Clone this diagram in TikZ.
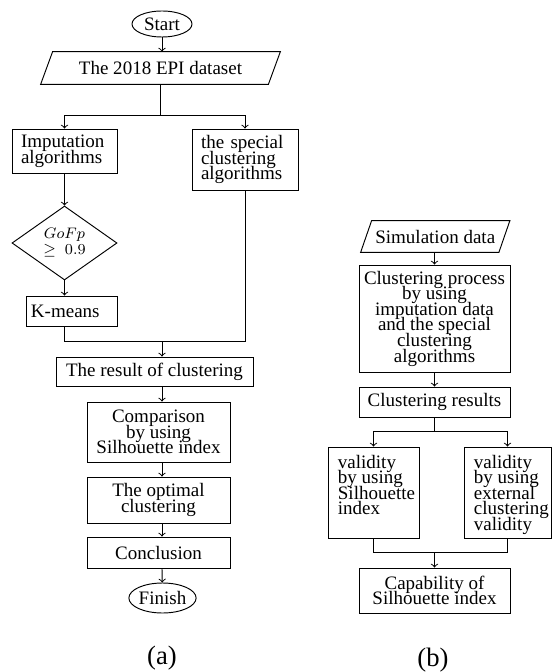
\documentclass[tikz,border=0pt]{standalone}
\usepackage{fontspec}
\setmainfont{Liberation Serif}
\usetikzlibrary{shapes.geometric}
\newdimen\pxu \pxu=0.526pt
\newcommand\bodyfnt{\fontsize{10}{8.2}\selectfont\lineskiplimit-20pt\relax\lineskip0pt\relax}
\newcommand\gofnt{\fontsize{8}{8.4}\selectfont\lineskiplimit-20pt\relax\lineskip0pt\relax}
\tikzset{
  base/.style={line width=0.5pt},
  box/.style={draw, base, inner sep=0pt, align=center},
  term/.style={ellipse, draw, base, inner sep=0pt},
  arr/.style={base, ->},
  ln/.style={base},
  bodyfont/.style={font=\bodyfnt},
  caption/.style={font=\fontsize{14}{16}\selectfont},
}
\begin{document}
\begin{tikzpicture}[x=\pxu, y=-\pxu, bodyfont]
\useasboundingbox (0,0) rectangle (552,672);
% ---------- (a)
\node[term, minimum width=60\pxu, minimum height=26\pxu] (start) at (162,24) {Start};
\node[inner sep=0pt, minimum width=227\pxu, minimum height=32\pxu] (data) at (160.5,68) {The 2018 EPI dataset};
\draw[ln] ([xshift=6\pxu]data.north west) -- ([xshift=6\pxu]data.north east)
  -- ([xshift=-6\pxu]data.south east) -- ([xshift=-6\pxu]data.south west) -- cycle;
\coordinate (s1) at (160.5,115);
\node[box, align=left, text width=87\pxu, inner xsep=9\pxu, minimum height=44\pxu] (imp) at (64.5,151) {Imputation\\algorithms};
\node[box, align=left, text width=88\pxu, inner xsep=9\pxu, minimum height=61\pxu] (spec) at (245,159.5) {the special\\clustering\\algorithms};
\node[diamond, draw, base, inner sep=0pt, minimum width=105\pxu, minimum height=74\pxu, align=center, font=\gofnt] (gof) at (64.5,243) {$GoFp$\\$\geq\; 0.9$};
\node[box, align=left, text width=81\pxu, inner xsep=5\pxu, minimum height=30\pxu] (km) at (71.5,311) {K-means};
\coordinate (j1) at (162,341);
\node[box, minimum width=197\pxu, minimum height=29\pxu] (res) at (154.5,371.5) {The result of clustering};
\node[box, minimum width=143\pxu, minimum height=60\pxu] (cmp) at (158.5,432) {Comparison\\by using\\Silhouette index};
\node[box, minimum width=143\pxu, minimum height=46\pxu] (opt) at (158.5,500) {The optimal\\clustering};
\node[box, minimum width=143\pxu, minimum height=31\pxu] (con) at (158.5,552.5) {Conclusion};
\node[term, minimum width=61\pxu, minimum height=30\pxu] (fin) at (162.5,598) {Finish};
\node[caption] (capa) at (162,658) {(a)};

\draw[arr] (start) -- (start |- data.north);
\draw[ln] (data.south) -- (s1);
\draw[arr] (s1) -| (imp);
\draw[arr] (s1) -| (spec);
\draw[arr] (imp) -- (gof);
\draw[arr] (gof.south) -- (gof.south |- km.north);
\draw[ln] (km.south -| gof) |- (j1);
\draw[ln] (spec) |- (j1);
\draw[arr] (j1) -- (j1 |- res.north);
\draw[arr] (res.south -| start) -- (cmp.north -| start);
\draw[arr] (cmp.south -| start) -- (opt.north -| start);
\draw[arr] (opt.south -| start) -- (con.north -| start);
\draw[arr] (con.south -| start) -- (fin);

% ---------- (b)
\node[inner sep=0pt, minimum width=137.5\pxu, minimum height=31\pxu] (sim) at (435.25,236.5) {Simulation data};
\draw[ln] ([xshift=5.5\pxu]sim.north west) -- ([xshift=5.5\pxu]sim.north east)
  -- ([xshift=-5.5\pxu]sim.south east) -- ([xshift=-5.5\pxu]sim.south west) -- cycle;
\node[box, minimum width=151\pxu, minimum height=107\pxu] (proc) at (434.5,318.5) {Clustering process\\by using\\imputation data\\and the special\\clustering\\algorithms};
\node[box, minimum width=151\pxu, minimum height=30\pxu] (cres) at (434.5,402) {Clustering results};
\coordinate (j2) at (434.5,431);
\node[box, minimum width=91\pxu, minimum height=91\pxu] (v1) at (373.5,492.5) {};
\node[anchor=north west, inner xsep=10\pxu, inner ysep=8\pxu, align=left] (v1t) at (v1.north west) {validity\\by using\\Silhouette\\index};
\node[box, minimum width=87\pxu, minimum height=91\pxu] (v2) at (507.5,492.5) {};
\node[anchor=north west, inner xsep=10\pxu, inner ysep=8\pxu, align=left] (v2t) at (v2.north west) {validity\\by using\\external\\clustering\\validity};
\coordinate (j3) at (434.5,552);
\node[box, minimum width=151\pxu, minimum height=45\pxu] (cap) at (434.5,590.5) {Capability of\\Silhouette index};
\node[caption] (capb) at (433,660) {(b)};

\draw[arr] (sim.south -| proc) -- (proc);
\draw[arr] (proc) -- (cres);
\draw[ln] (cres) -- (j2);
\draw[arr] (j2) -| (v1);
\draw[arr] (j2) -| (v2);
\draw[ln] (v1) |- (j3);
\draw[ln] (v2) |- (j3);
\draw[arr] (j3) -- (cap);
\end{tikzpicture}
\end{document}
